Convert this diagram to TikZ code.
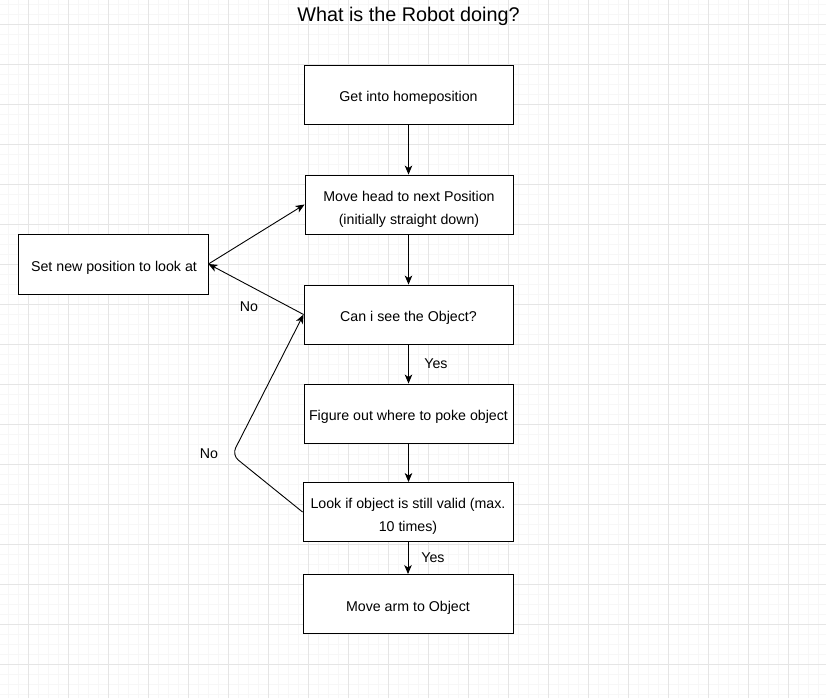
\documentclass[tikz,border=0pt]{standalone}
\usepackage{fontspec}
\setmainfont{Liberation Sans}
\usetikzlibrary{arrows.meta}
\begin{document}
\begin{tikzpicture}[x=1pt,y=-1pt,
  box/.style={draw=black,line width=0.9pt,fill=white,inner sep=0pt},
  txt/.style={anchor=base,inner sep=0pt,align=center,font=\fontsize{14.2}{23.4}\selectfont},
  conn/.style={draw=black,line width=0.9pt,-{Stealth[length=9pt,width=7.5pt,inset=2.5pt]}},
  lbl/.style={anchor=base,font=\fontsize{14.2}{16}\selectfont,inner sep=0pt}]
\useasboundingbox (0,0) rectangle (826,698);
\fill[white] (0,0) rectangle (826,698);
% minor grid
\foreach \x in {8,18,...,826} \draw[color=black!3,line width=0.6pt] (\x,0) -- (\x,698);
\foreach \y in {4,14,...,698} \draw[color=black!3,line width=0.6pt] (0,\y) -- (826,\y);
% major grid
\foreach \x in {28,68,...,826} \draw[color=black!10,line width=0.7pt] (\x,0) -- (\x,698);
\foreach \y in {24,64,...,698} \draw[color=black!10,line width=0.7pt] (0,\y) -- (826,\y);

\node[font=\fontsize{19.8}{22}\selectfont,inner sep=0pt] (title) at (408.5,16) {What is the Robot doing?};

\node[box,minimum width=209pt,minimum height=59pt] (home) at (408.5,94.5) {};
\node[box,minimum width=208pt,minimum height=59pt] (head) at (409,204.5) {};
\node[box,minimum width=209pt,minimum height=59pt] (see) at (408.5,314.5) {};
\node[box,minimum width=209pt,minimum height=59pt] (poke) at (408.5,413.5) {};
\node[box,minimum width=210pt,minimum height=59pt] (valid) at (408,512) {};
\node[box,minimum width=210pt,minimum height=59pt] (arm) at (408,604) {};
\node[box,minimum width=190pt,minimum height=60pt] (setpos) at (113,264) {};

\node[txt] (homet) at (408.5,101.5) {Get into homeposition};
\node[txt] (headt) at (409,224.4) {Move head to next Position\\(initially straight down)};
\node[txt] (seet) at (408.5,321.5) {Can i see the Object?};
\node[txt] (poket) at (408.5,420.5) {Figure out where to poke object};
\node[txt] (validt) at (408,531.7) {Look if object is still valid (max.\\10 times)};
\node[txt] (armt) at (408,611) {Move arm to Object};
\node[txt] (setpost) at (114,271.5) {Set new position to look at};

\coordinate (bend) at (232,455);

\draw[conn] (home.south) -- (home.south |- head.north);
\draw[conn] (head.south -| see.north) -- (see.north);
\draw[conn] (see.south) -- (poke.north);
\draw[conn] (poke.south) -- (poke.south |- valid.north);
\draw[conn] (valid.south) -- (arm.north);
\draw[conn] (see.west) -- (setpos.east);
\draw[conn] (setpos.east) -- (head.west);
\draw[conn,rounded corners=8pt] (valid.west) -- (bend) -- (see.west);

\node[lbl] (no1) at (249,311) {No};
\node[lbl] (no2) at (209,458) {No};
\node[lbl] (yes1) at (436,368.3) {Yes};
\node[lbl] (yes2) at (433,562.5) {Yes};
\end{tikzpicture}
\end{document}
